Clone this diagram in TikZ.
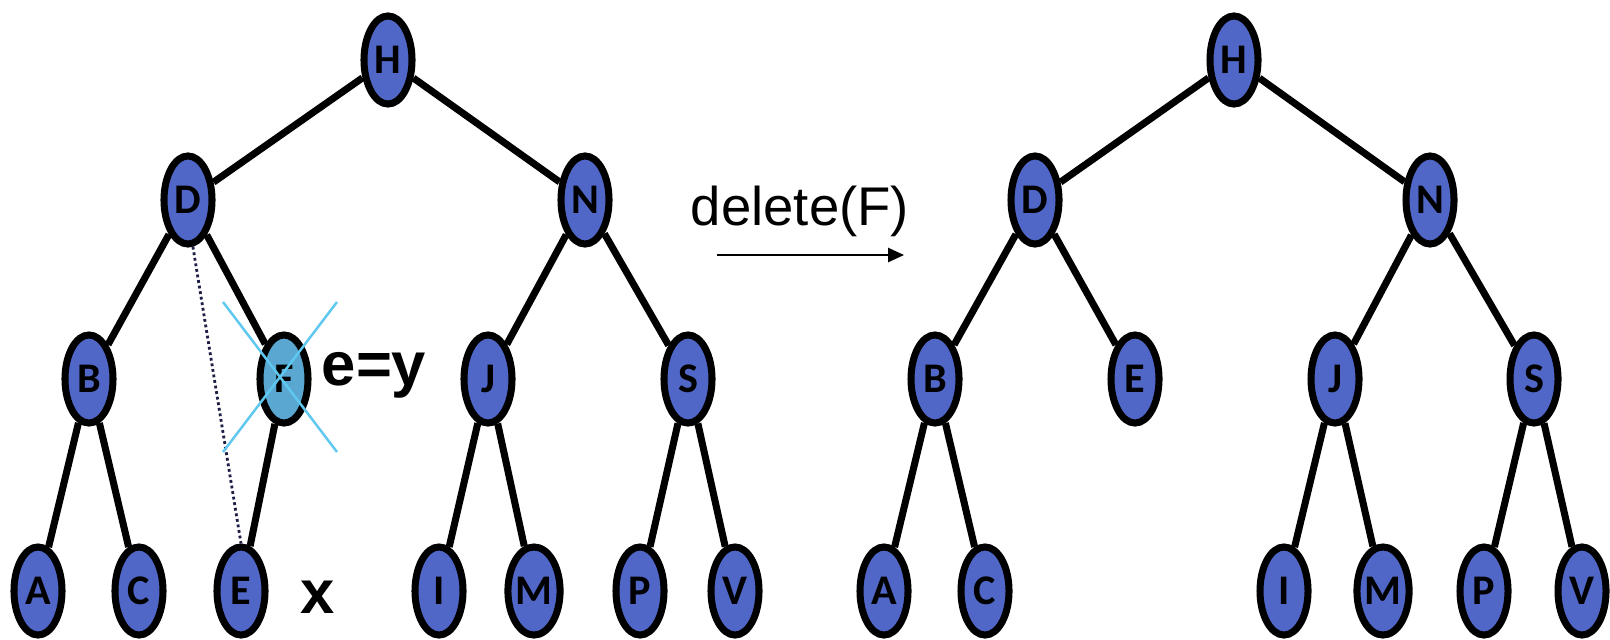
\documentclass[tikz,border=0pt]{standalone}
\usepackage{fontspec}
\setmainfont{Carlito}
\newfontfamily\arialfont{Liberation Sans}
\usetikzlibrary{shapes.geometric, arrows.meta}
\definecolor{nodeblue}{RGB}{80,103,200}
\definecolor{delblue}{RGB}{90,168,210}
\definecolor{crossblue}{RGB}{94,200,240}
\definecolor{dotnavy}{RGB}{30,30,70}

\begin{document}
\begin{tikzpicture}[x=0.01cm, y=-0.01cm,
    tnode/.style={ellipse, draw, line width=2pt, fill=nodeblue, minimum width=0.48cm,
        minimum height=0.88cm, inner sep=0pt, font=\fontsize{12}{12}\selectfont\bfseries},
    tedge/.style={line width=2pt},
    biglabel/.style={font=\arialfont\fontsize{17.5}{17.5}\selectfont\bfseries}]
    \useasboundingbox (0,0) rectangle (1610,639);
    % tree before the deletion
    \foreach \n/\x/\y in {H/388/60, D/188/200, N/585/200, B/89/379, J/488/379, S/688/379,
        A/38/591, C/139/591, E/241/591, I/439/591, M/534/591, P/640/591, V/735/591}
        \node[tnode] (\n) at (\x,\y) {\n};
    \node[tnode, fill=delblue] (F) at (284,379) {F};
    \foreach \p/\c in {H/D, H/N, D/B, D/F, N/J, N/S, B/A, B/C, F/E, J/I, J/M, S/P, S/V}
        \draw[tedge] (\p) -- (\c);
    \draw[line width=0.8pt, dotnavy, dash pattern=on 0.8pt off 0.8pt] (D.-84) -- (E.north);
    \node[biglabel] (ey) at (374,375) {e=y};
    \node[biglabel] (x) at (318,597) {x};
    % the cross over F
    \coordinate (f1) at (223,302);
    \coordinate (f2) at (337,452);
    \coordinate (f3) at (337,302);
    \coordinate (f4) at (223,452);
    \draw[crossblue, line width=0.7pt] (f1) -- (f2);
    \draw[crossblue, line width=0.7pt] (f3) -- (f4);
    % the operation
    \coordinate (a1) at (717,255);
    \coordinate (a2) at (904,255);
    \draw[line width=0.6pt, -{Triangle[length=4.5pt, width=4pt]}] (a1) -- (a2);
    \node[font=\arialfont\fontsize{15.5}{15.5}\selectfont] (del) at (800,211) {delete(F)};
    % tree after the deletion
    \foreach \n/\x/\y in {H/1234/60, D/1035/200, N/1430/200, B/935/379, E/1135/379,
        J/1335/379, S/1534/379, A/884/591, C/985/591, I/1284/591, M/1383/591,
        P/1484/591, V/1582/591}
        \node[tnode] (r\n) at (\x,\y) {\n};
    \foreach \p/\c in {H/D, H/N, D/B, D/E, N/J, N/S, B/A, B/C, J/I, J/M, S/P, S/V}
        \draw[tedge] (r\p) -- (r\c);
\end{tikzpicture}
\end{document}
